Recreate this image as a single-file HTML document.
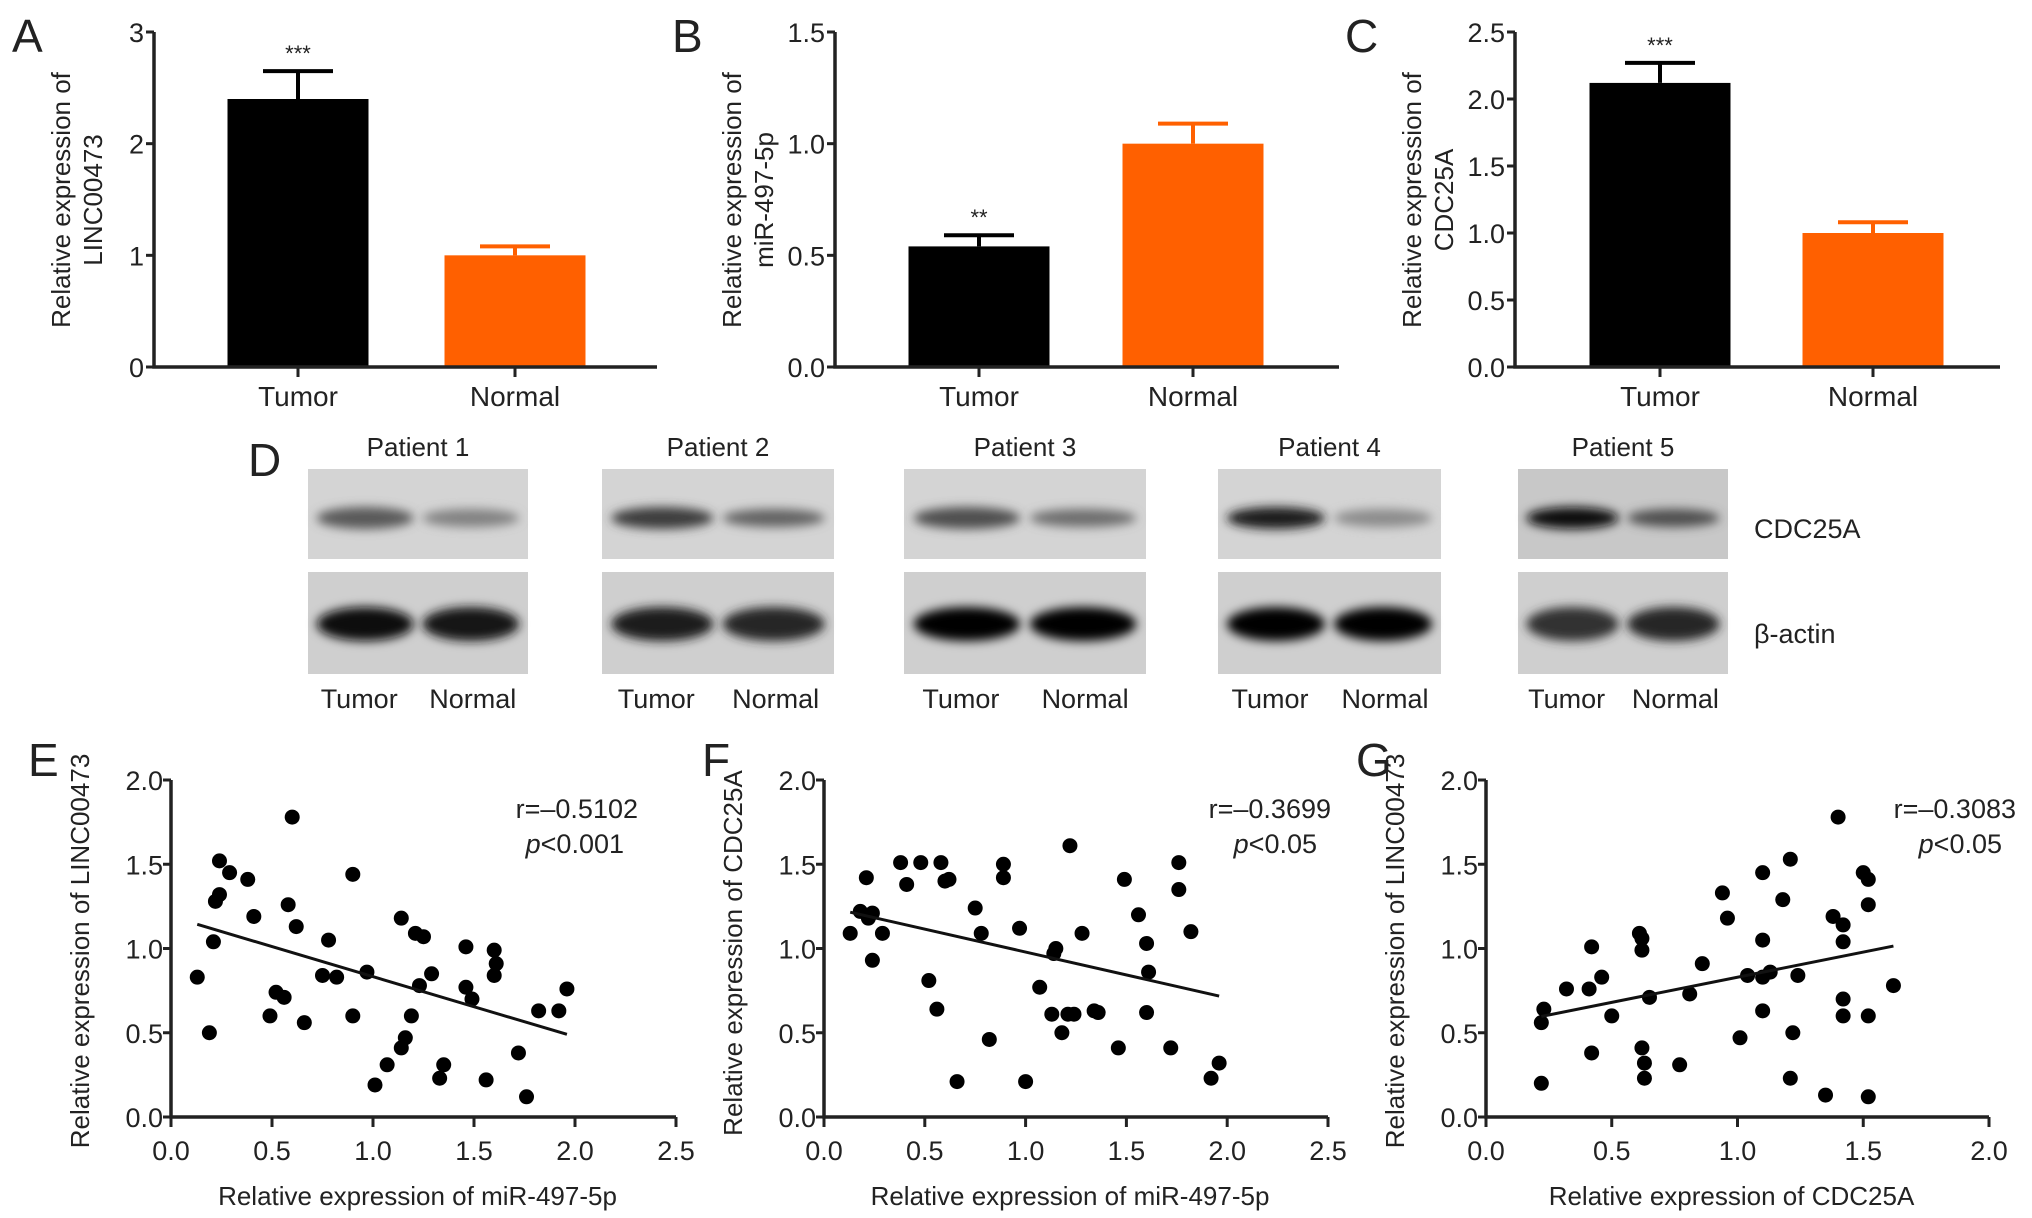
<!DOCTYPE html>
<html><head><meta charset="utf-8">
<style>
html,body{margin:0;padding:0;background:#fff;}
svg{display:block;font-family:"Liberation Sans",Arial,sans-serif;}
</style></head>
<body>
<svg id="fig" width="2032" height="1218" viewBox="0 0 2032 1218" xmlns="http://www.w3.org/2000/svg">
<defs>
<filter id="blur" x="-50%" y="-100%" width="200%" height="300%"><feGaussianBlur stdDeviation="9"/></filter>
<filter id="blur2" x="-50%" y="-100%" width="200%" height="300%"><feGaussianBlur stdDeviation="5"/></filter>
</defs>
<g id="root"></g>
</svg>
<script>
// ---- Bar chart data ----
const barCategories = ["Tumor", "Normal"];
const barAValues = [2.40, 1.00];
const barAErrors = [2.65, 1.08];
const barBValues = [0.54, 1.00];
const barBErrors = [0.59, 1.09];
const barCValues = [2.12, 1.00];
const barCErrors = [2.27, 1.08];
const barATicks = ["0", "1", "2", "3"];
const barBTicks = ["0.0", "0.5", "1.0", "1.5"];
const barCTicks = ["0.0", "0.5", "1.0", "1.5", "2.0", "2.5"];
const barSig = ["***", "**", "***"];

// ---- Scatter data ----
const scatterEX = [0.13,0.19,0.21,0.22,0.24,0.24,0.29,0.38,0.41,0.49,0.52,0.56,0.58,0.60,0.62,0.66,0.75,0.78,0.82,0.90,0.90,0.97,1.01,1.07,1.14,1.14,1.16,1.19,1.21,1.25,1.23,1.29,1.33,1.35,1.46,1.46,1.49,1.56,1.60,1.61,1.60,1.72,1.76,1.82,1.92,1.96];
const scatterEY = [0.83,0.50,1.04,1.28,1.32,1.52,1.45,1.41,1.19,0.60,0.74,0.71,1.26,1.78,1.13,0.56,0.84,1.05,0.83,1.44,0.60,0.86,0.19,0.31,1.18,0.41,0.47,0.60,1.09,1.07,0.78,0.85,0.23,0.31,0.77,1.01,0.70,0.22,0.99,0.91,0.84,0.38,0.12,0.63,0.63,0.76];
const scatterFX = [0.13,0.18,0.21,0.22,0.24,0.24,0.29,0.38,0.41,0.48,0.52,0.56,0.58,0.60,0.62,0.66,0.75,0.78,0.82,0.89,0.89,0.97,1.00,1.07,1.13,1.14,1.15,1.18,1.21,1.22,1.24,1.28,1.34,1.36,1.46,1.49,1.56,1.60,1.60,1.61,1.72,1.76,1.76,1.82,1.92,1.96];
const scatterFY = [1.09,1.22,1.42,1.18,1.21,0.93,1.09,1.51,1.38,1.51,0.81,0.64,1.51,1.40,1.41,0.21,1.24,1.09,0.46,1.50,1.42,1.12,0.21,0.77,0.61,0.97,1.00,0.50,0.61,1.61,0.61,1.09,0.63,0.62,0.41,1.41,1.20,0.62,1.03,0.86,0.41,1.51,1.35,1.10,0.23,0.32];
const scatterGX = [0.22,0.22,0.23,0.32,0.41,0.42,0.42,0.46,0.50,0.61,0.62,0.62,0.62,0.63,0.63,0.65,0.77,0.81,0.86,0.94,0.96,1.01,1.04,1.10,1.10,1.10,1.10,1.13,1.18,1.21,1.21,1.22,1.24,1.35,1.38,1.40,1.42,1.42,1.42,1.42,1.50,1.52,1.52,1.52,1.52,1.62];
const scatterGY = [0.20,0.56,0.64,0.76,0.76,1.01,0.38,0.83,0.60,1.09,1.06,0.99,0.41,0.32,0.23,0.71,0.31,0.73,0.91,1.33,1.18,0.47,0.84,1.45,1.05,0.83,0.63,0.86,1.29,1.53,0.23,0.50,0.84,0.13,1.19,1.78,1.14,1.04,0.70,0.60,1.45,1.41,1.26,0.60,0.12,0.78];
const scatterTicksX25 = ["0.0","0.5","1.0","1.5","2.0","2.5"];
const scatterTicksX20 = ["0.0","0.5","1.0","1.5","2.0"];
const scatterTicksY = ["0.0","0.5","1.0","1.5","2.0"];
const statsR = ["r=\u20130.5102","r=\u20130.3699","r=\u20130.3083"];
const statsP = ["<0.001","<0.05","<0.05"];

const NS = "http://www.w3.org/2000/svg";
const root = document.getElementById("root");
function mk(tag, attrs, parent, text){
  const e = document.createElementNS(NS, tag);
  for (const k in attrs) e.setAttribute(k, attrs[k]);
  if (text !== undefined) e.textContent = text;
  (parent || root).appendChild(e);
  return e;
}
function label(txt, x, y, size, anchor, parent){
  return mk("text", {x:x, y:y, "font-size":size, "text-anchor":anchor||"middle", fill:"#222"}, parent, txt);
}

// ---------- Bar charts ----------
function barChart(cfg){
  const g = mk("g", {});
  
  
  const ax = cfg.ax, y0 = 367, yTop = 32, xEnd = cfg.xEnd;
  const maxV = parseFloat(cfg.ticks[cfg.ticks.length-1]);
  const ys = v => y0 - (v/maxV)*(y0-yTop);
  for (let i=0;i<barCategories.length;i++){
    const cx = ax + cfg.offsets[i];
    const w = 141;
    const col = i===0 ? "#000" : "#ff6000";
    const b = mk("rect", {x:cx-w/2, y:ys(cfg.values[i]), width:w, height:y0-ys(cfg.values[i]), fill:col}, g);
    
    
    const e = mk("path", {d:`M${cx} ${ys(cfg.values[i])} V${ys(cfg.errors[i])} M${cx-35} ${ys(cfg.errors[i])} H${cx+35}`, stroke:col, "stroke-width":4, fill:"none"}, g);
    
    
    mk("path", {d:`M${cx} ${y0} v10`, stroke:"#222","stroke-width":3}, g);
    const t = label(barCategories[i], cx, 406, 28, "middle", g);
    
    
    if (i===0){
      const s = label(cfg.sig, cx, ys(cfg.errors[i])-10, 22, "middle", g);
      
      
    }
  }
  const axes = mk("path", {d:`M${ax} ${yTop} V${y0} H${xEnd}`, stroke:"#222", "stroke-width":3.5, fill:"none"}, g);
  
  
  cfg.ticks.forEach(t=>{
    const v = parseFloat(t);
    mk("path", {d:`M${ax-8} ${ys(v)} H${ax}`, stroke:"#222","stroke-width":3}, g);
    const tl = label(t, ax-10, ys(v)+10, 27, "end", g);
    
    
  });
  const tt = mk("text", {transform:`translate(${ax-cfg.titleOff},200) rotate(-90)`, "font-size":26, "text-anchor":"middle", fill:"#222"}, g);
  
  
  mk("tspan", {x:0, y:0}, tt, "Relative expression of");
  mk("tspan", {x:0, y:32}, tt, cfg.gene);
  const L = label(cfg.letter, cfg.letterX, 52, 46, "start", g);
  
  
}
barChart({name:"panel-a-bar-chart", ax:154, xEnd:657, offsets:[144,361], values:barAValues, errors:barAErrors, ticks:barATicks, gene:"LINC00473", letter:"A", letterX:12, sig:barSig[0], titleOff:84});
barChart({name:"panel-b-bar-chart", ax:835, xEnd:1339, offsets:[144,358], values:barBValues, errors:barBErrors, ticks:barBTicks, gene:"miR-497-5p", letter:"B", letterX:672, sig:barSig[1], titleOff:94});
barChart({name:"panel-c-bar-chart", ax:1515, xEnd:2000, offsets:[145,358], values:barCValues, errors:barCErrors, ticks:barCTicks, gene:"CDC25A", letter:"C", letterX:1345, sig:barSig[2], titleOff:94});

// ---------- Western blots ----------
const blotPatients = ["Patient 1","Patient 2","Patient 3","Patient 4","Patient 5"];
const cdcTumor = [0.55,0.7,0.6,0.85,0.95];
const cdcNormal = [0.35,0.5,0.45,0.3,0.6];
const actinTumor = [0.95,0.85,0.97,0.98,0.75];
const actinNormal = [0.9,0.8,0.99,0.99,0.8];
const blotBoxes = [[308,528],[602,834],[904,1146],[1218,1441],[1518,1728]];
const blotG = mk("g", {});


label("D", 248, 476, 46, "start", blotG);
blotPatients.forEach((p,i)=>{
  const [x1,x2] = blotBoxes[i]; const w = x2-x1; const cx = (x1+x2)/2;
  const t = label(p, cx, 456, 26, "middle", blotG);
  
  
  const top = mk("rect", {x:x1, y:469, width:w, height:90, fill: i===4 ? "#c8c8c8" : "#d4d4d4"}, blotG);
  
  
  const bot = mk("rect", {x:x1, y:572, width:w, height:102, fill:"#cfcfcf"}, blotG);
  
  
  const lane1 = x1 + w*0.26, lane2 = x1 + w*0.74;
  const bw = w*0.22;
  const gray = v => { const c = Math.round(200*(1-v)); return `rgb(${c},${c},${c})`; };
  mk("ellipse", {cx:lane1, cy:518, rx:bw, ry:11, fill:gray(cdcTumor[i]), filter:"url(#blur2)"}, blotG);
  mk("ellipse", {cx:lane2, cy:518, rx:bw, ry:9, fill:gray(cdcNormal[i]), filter:"url(#blur2)"}, blotG);
  mk("ellipse", {cx:lane1, cy:624, rx:bw, ry:17, fill:gray(actinTumor[i]), filter:"url(#blur2)"}, blotG);
  mk("ellipse", {cx:lane2, cy:624, rx:bw, ry:17, fill:gray(actinNormal[i]), filter:"url(#blur2)"}, blotG);
  const a = label("Tumor", lane1-6, 708, 27, "middle", blotG);
  
  
  const b = label("Normal", lane2+2, 708, 27, "middle", blotG);
  
  
});
const cdcL = label("CDC25A", 1754, 538, 27, "start", blotG);


const actL = label("\u03b2-actin", 1754, 643, 27, "start", blotG);



// ---------- Scatter plots ----------
function scatter(cfg){
  const g = mk("g", {});
  
  
  const x0 = cfg.x0, x1 = cfg.x1, y0 = 1117, y1 = 780;
  const xMax = parseFloat(cfg.xticks[cfg.xticks.length-1]);
  const xs = v => x0 + v/xMax*(x1-x0);
  const ys = v => y0 - v/2.0*(y0-y1);
  const axes = mk("path", {d:`M${x0} ${y1} V${y0} H${x1}`, stroke:"#222","stroke-width":3.5, fill:"none"}, g);
  
  
  cfg.xticks.forEach(t=>{
    const v = parseFloat(t);
    mk("path", {d:`M${xs(v)} ${y0} v10`, stroke:"#222","stroke-width":3}, g);
    const tl = label(t, xs(v), 1160, 27, "middle", g);
    
    
  });
  scatterTicksY.forEach(t=>{
    const v = parseFloat(t);
    mk("path", {d:`M${x0-8} ${ys(v)} H${x0}`, stroke:"#222","stroke-width":3}, g);
    const tl = label(t, x0-8, ys(v)+10, 27, "end", g);
    
    
  });
  cfg.xs.forEach((xv,i)=>{
    const c = mk("circle", {cx:xs(xv), cy:ys(cfg.ys[i]), r:7.5, fill:"#000"}, g);
    
    
  });
  const n = cfg.xs.length;
  const mx = cfg.xs.reduce((a,b)=>a+b,0)/n, my = cfg.ys.reduce((a,b)=>a+b,0)/n;
  let sxy=0,sxx=0; for(let i=0;i<n;i++){sxy+=(cfg.xs[i]-mx)*(cfg.ys[i]-my); sxx+=(cfg.xs[i]-mx)**2;}
  const slope = sxy/sxx, ic = my - slope*mx;
  const xa = Math.min(...cfg.xs), xb = Math.max(...cfg.xs);
  const ln = mk("line", {x1:xs(xa), y1:ys(ic+slope*xa), x2:xs(xb), y2:ys(ic+slope*xb), stroke:"#111","stroke-width":3}, g);
  
  
  const xt = label(cfg.xtitle, (x0+x1)/2 - 6, 1205, 26, "middle", g);
  
  
  const yt = mk("text", {transform:`translate(${x0-82},${cfg.ytitleY}) rotate(-90)`, "font-size":26, "text-anchor":"middle", fill:"#222"}, g, cfg.ytitle);
  
  
  const r = label(statsR[cfg.idx], cfg.statX, 818, 27, "end", g);
  
  
  const p = mk("text", {x:cfg.statX-14, y:853, "font-size":27, "text-anchor":"end", fill:"#222"}, g);
  
  
  mk("tspan", {"font-style":"italic"}, p, "p");
  mk("tspan", {}, p, statsP[cfg.idx]);
  const L = label(cfg.letter, cfg.letterX, 776, 46, "start", g);
  
  
}
scatter({name:"panel-e-scatter", idx:0, x0:171, x1:676, xticks:scatterTicksX25, xs:scatterEX, ys:scatterEY, xtitle:"Relative expression of miR-497-5p", ytitle:"Relative expression of LINC00473", ytitleY:951, statX:638, letter:"E", letterX:28});
scatter({name:"panel-f-scatter", idx:1, x0:824, x1:1328, xticks:scatterTicksX25, xs:scatterFX, ys:scatterFY, xtitle:"Relative expression of miR-497-5p", ytitle:"Relative expression of CDC25A", ytitleY:953, statX:1331, letter:"F", letterX:702});
scatter({name:"panel-g-scatter", idx:2, x0:1486, x1:1989, xticks:scatterTicksX20, xs:scatterGX, ys:scatterGY, xtitle:"Relative expression of CDC25A", ytitle:"Relative expression of LINC00473", ytitleY:951, statX:2016, letter:"G", letterX:1356});
</script>
</body></html>
